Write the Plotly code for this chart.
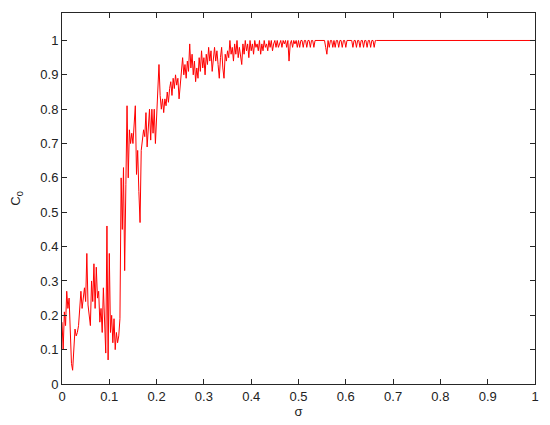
import numpy as np
import plotly.graph_objects as go

STEP = 0.0025

c0_low = [
    0.18, 0.10, 0.21, 0.17, 0.27, 0.22, 0.25, 0.14, 0.06, 0.04,
    0.10, 0.16, 0.14, 0.15, 0.17, 0.23, 0.27, 0.22, 0.26, 0.28,
    0.24, 0.38, 0.23, 0.20, 0.17, 0.30, 0.24, 0.35, 0.22, 0.34,
    0.25, 0.27, 0.18, 0.22, 0.15, 0.28, 0.16, 0.09, 0.46, 0.07,
    0.38, 0.15, 0.20, 0.12, 0.19, 0.10, 0.15, 0.12,
]
c0_jump = [
    0.14, 0.19, 0.60, 0.45, 0.63, 0.33, 0.58, 0.81, 0.60, 0.74,
    0.70, 0.73, 0.70, 0.75, 0.81, 0.61, 0.68, 0.56, 0.47, 0.68,
    0.71, 0.74, 0.72, 0.79, 0.69, 0.77, 0.80, 0.71, 0.80, 0.73,
    0.80, 0.70, 0.78, 0.86, 0.93, 0.84, 0.80, 0.83, 0.79, 0.83,
    0.81, 0.85, 0.82, 0.86, 0.88, 0.84, 0.89, 0.86, 0.90, 0.87,
    0.89, 0.83,
]
c0_noisy = [
    0.88, 0.92, 0.95, 0.90, 0.93, 0.89, 0.94, 0.91, 0.99, 0.92,
    0.96, 0.90, 0.94, 0.88, 0.92, 0.89, 0.95, 0.91, 0.97, 0.92,
    0.95, 0.90, 0.96, 0.93, 0.98, 0.94, 0.97, 0.91, 0.96, 0.98,
    0.94, 0.97, 0.93, 0.89, 0.95, 0.98, 0.92, 0.89, 0.96, 0.94,
    0.97, 0.95, 1.00, 0.96, 0.98, 0.94, 0.99, 0.96, 1.00, 0.95,
    0.98, 0.96, 0.93, 0.99, 0.96, 1.00, 0.97, 0.99, 0.95, 1.00,
    0.97, 0.99, 0.96, 1.00, 0.98, 0.99, 0.97, 1.00, 0.96, 0.99,
    0.97, 1.00, 0.98, 0.99, 0.97, 1.00, 0.98, 1.00, 0.97, 0.99,
    1.00, 0.98, 1.00, 0.98, 0.99, 1.00, 0.98, 1.00, 0.99, 1.00,
    0.98, 1.00, 0.94, 0.99, 1.00, 0.98, 1.00, 0.99, 1.00, 0.98,
]
c0_tail = [
    1.00, 0.98, 1.00, 1.00, 0.98, 1.00, 1.00, 0.98, 1.00, 1.00,
    0.98, 1.00, 1.00, 0.98, 1.00, 1.00, 1.00, 1.00, 1.00, 1.00,
    1.00, 1.00, 1.00, 0.98, 0.96, 1.00, 0.98, 1.00, 1.00, 0.98,
    1.00, 0.98, 1.00, 1.00, 0.98, 1.00, 1.00, 0.98, 1.00, 1.00,
    0.98, 1.00, 1.00, 1.00, 1.00, 1.00, 0.98, 1.00, 1.00, 0.98,
    1.00, 1.00, 0.98, 1.00, 1.00, 0.98, 1.00, 1.00, 0.98, 1.00,
    1.00, 0.98, 1.00, 1.00, 0.98, 1.00, 1.00, 1.00,
]
# saturated part: C0 stays at 1 up to sigma = 1
sigma_end = 1.0
c0_end = 1.0

tick_vals = [0, 0.1, 0.2, 0.3, 0.4, 0.5, 0.6, 0.7, 0.8, 0.9, 1]
tick_text = ["0", "0.1", "0.2", "0.3", "0.4", "0.5", "0.6", "0.7", "0.8", "0.9", "1"]

c0 = c0_low + c0_jump + c0_noisy + c0_tail
sigma = list(np.arange(len(c0)) * STEP) + [sigma_end]
c0 = c0 + [c0_end]

fig = go.Figure()
fig.add_trace(go.Scatter(x=sigma, y=c0, mode="lines",
                         line=dict(color="#ff0000", width=1), showlegend=False))

font = dict(family="Liberation Sans, Arial", size=13, color="#222")
axis_style = dict(showline=True, linecolor="#262626", linewidth=1, mirror="ticks",
                  ticks="inside", ticklen=5, tickcolor="#262626", showgrid=False,
                  zeroline=False, automargin=False, tickfont=font,
                  tickvals=tick_vals, ticktext=tick_text)
fig.update_xaxes(range=[0, 1], title=dict(text="σ", standoff=4, font=font), **axis_style)
fig.update_yaxes(range=[0, 1.08], title=dict(text="C<sub>0</sub>", standoff=18, font=font),
                 **axis_style)
# the page body adds an 8px margin, so the figure is 8px smaller than the window
fig.update_layout(width=542, height=417, margin=dict(l=54, r=15, t=5, b=41),
                  plot_bgcolor="white", paper_bgcolor="white")

fig.write_html("out.html")
